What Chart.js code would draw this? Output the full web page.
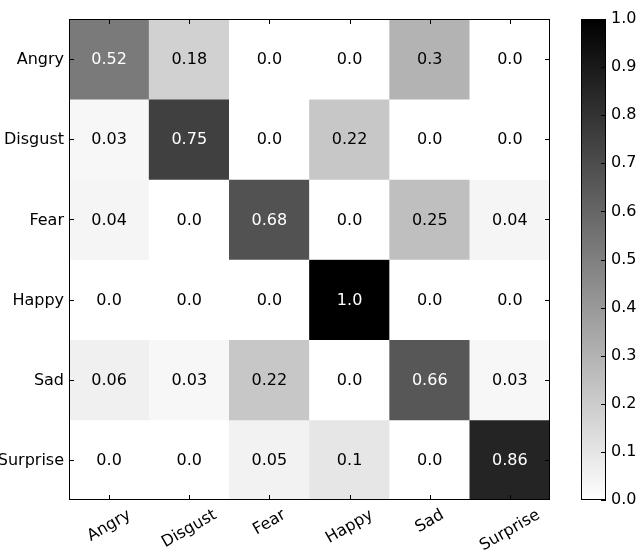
<!DOCTYPE html>
<html>
<head>
<meta charset="utf-8">
<script src="https://cdn.jsdelivr.net/npm/chart.js@4.4.0/dist/chart.umd.min.js"></script>
<style>
  html, body { margin: 0; padding: 0; background: #fff; }
</style>
</head>
<body>
<canvas id="cm" width="640" height="553"></canvas>
<script>
// classes (rows = true label, cols = predicted)
const classNames = ['Angry', 'Disgust', 'Fear', 'Happy', 'Sad', 'Surprise'];

// normalized confusion matrix, one array per row
const rowAngry    = [0.52, 0.18, 0.0, 0.0, 0.3, 0.0];
const rowDisgust  = [0.03, 0.75, 0.0, 0.22, 0.0, 0.0];
const rowFear     = [0.04, 0.0, 0.68, 0.0, 0.25, 0.04];
const rowHappy    = [0.0, 0.0, 0.0, 1.0, 0.0, 0.0];
const rowSad      = [0.06, 0.03, 0.22, 0.0, 0.66, 0.03];
const rowSurprise = [0.0, 0.0, 0.05, 0.1, 0.0, 0.86];
const matrix = [rowAngry, rowDisgust, rowFear, rowHappy, rowSad, rowSurprise];

// colorbar ticks
const colorbarTicks = [0.0, 0.1, 0.2, 0.3, 0.4, 0.5, 0.6, 0.7, 0.8, 0.9, 1.0];

const FONT = '16px "DejaVu Sans", sans-serif';

// gray colormap, reversed (0 = white, 1 = black)
function grayFor(v) {
  const g = Math.round(255 * (1 - v));
  return `rgb(${g},${g},${g})`;
}

// like python str(float)
function fmt(v) {
  return Number.isInteger(v) ? v.toFixed(1) : String(v);
}

// draws text, ticks, frame and colorbar
const matrixDecor = {
  id: 'matrixDecor',
  afterDatasetsDraw(chart) {
    const ctx = chart.ctx;
    const area = chart.chartArea;
    const xs = chart.scales.x;
    const ys = chart.scales.y;
    const cb = chart.scales.cb;
    const tick = 5;

    ctx.save();
    ctx.font = FONT;

    // values in cells
    ctx.textAlign = 'center';
    ctx.textBaseline = 'middle';
    matrix.forEach((row, r) => {
      row.forEach((v, c) => {
        ctx.fillStyle = v > 0.5 ? '#fff' : '#000';
        ctx.fillText(fmt(v), xs.getPixelForValue(c), ys.getPixelForValue(r + 0.5) + 1);
      });
    });

    // frame
    ctx.strokeStyle = '#000';
    ctx.lineWidth = 1;
    ctx.strokeRect(area.left + 0.5, area.top + 0.5, area.right - area.left - 1, area.bottom - area.top - 1);

    // inward ticks
    ctx.beginPath();
    classNames.forEach((name, i) => {
      const x = Math.round(xs.getPixelForValue(i)) + 0.5;
      ctx.moveTo(x, area.bottom); ctx.lineTo(x, area.bottom - tick);
      ctx.moveTo(x, area.top); ctx.lineTo(x, area.top + tick);
      const y = Math.round(ys.getPixelForValue(i + 0.5)) + 0.5;
      ctx.moveTo(area.left, y); ctx.lineTo(area.left + tick, y);
      ctx.moveTo(area.right, y); ctx.lineTo(area.right - tick, y);
    });
    ctx.stroke();

    // y labels
    ctx.fillStyle = '#000';
    ctx.textAlign = 'right';
    ctx.textBaseline = 'middle';
    classNames.forEach((name, i) => {
      ctx.fillText(name, area.left - 5, ys.getPixelForValue(i + 0.5) + 1);
    });

    // x labels, rotated 30 deg, centered under tick
    const ang = 30 * Math.PI / 180;
    const lh = 16;
    ctx.textAlign = 'center';
    classNames.forEach((name, i) => {
      const w = ctx.measureText(name).width;
      const bh = w * Math.sin(ang) + lh * Math.cos(ang);
      const cx = xs.getPixelForValue(i);
      const cy = area.bottom + 7 + bh / 2;
      ctx.save();
      ctx.translate(cx, cy);
      ctx.rotate(-ang);
      ctx.fillText(name, 0, 0);
      ctx.restore();
    });

    // colorbar
    const bx0 = area.right + 31;
    const bx1 = area.right + 56;
    const yTop = cb.getPixelForValue(1);
    const yBot = cb.getPixelForValue(0);
    const grad = ctx.createLinearGradient(0, yBot, 0, yTop);
    grad.addColorStop(0, grayFor(0));
    grad.addColorStop(1, grayFor(1));
    ctx.fillStyle = grad;
    ctx.fillRect(bx0, yTop, bx1 - bx0, yBot - yTop);
    ctx.strokeStyle = '#000';
    ctx.strokeRect(bx0 + 0.5, yTop + 0.5, bx1 - bx0 - 1, yBot - yTop - 1);

    ctx.beginPath();
    colorbarTicks.forEach((t) => {
      const y = Math.round(cb.getPixelForValue(t)) + 0.5;
      ctx.moveTo(bx1, y); ctx.lineTo(bx1 - 5, y);
    });
    ctx.stroke();

    ctx.fillStyle = '#000';
    ctx.textAlign = 'left';
    ctx.textBaseline = 'middle';
    colorbarTicks.forEach((t) => {
      ctx.fillText(t.toFixed(1), bx1 + 5, cb.getPixelForValue(t));
    });

    ctx.restore();
  }
};

new Chart(document.getElementById('cm'), {
  type: 'bar',
  data: {
    labels: classNames,
    datasets: matrix.map((row, r) => ({
      label: classNames[r],
      data: row.map(() => [r, r + 1]),
      backgroundColor: row.map(grayFor),
      borderWidth: 0,
      barPercentage: 1,
      categoryPercentage: 1,
      grouped: false
    }))
  },
  options: {
    responsive: false,
    animation: false,
    devicePixelRatio: 1,
    layout: { padding: { left: 69, top: 19, right: 90, bottom: 53 } },
    plugins: {
      legend: { display: false },
      tooltip: { enabled: false }
    },
    scales: {
      x: { type: 'category', display: false, offset: true },
      y: { type: 'linear', display: false, min: 0, max: 6, reverse: true },
      cb: { type: 'linear', display: false, position: 'right', min: 0, max: 1 }
    }
  },
  plugins: [matrixDecor]
});
</script>
</body>
</html>
